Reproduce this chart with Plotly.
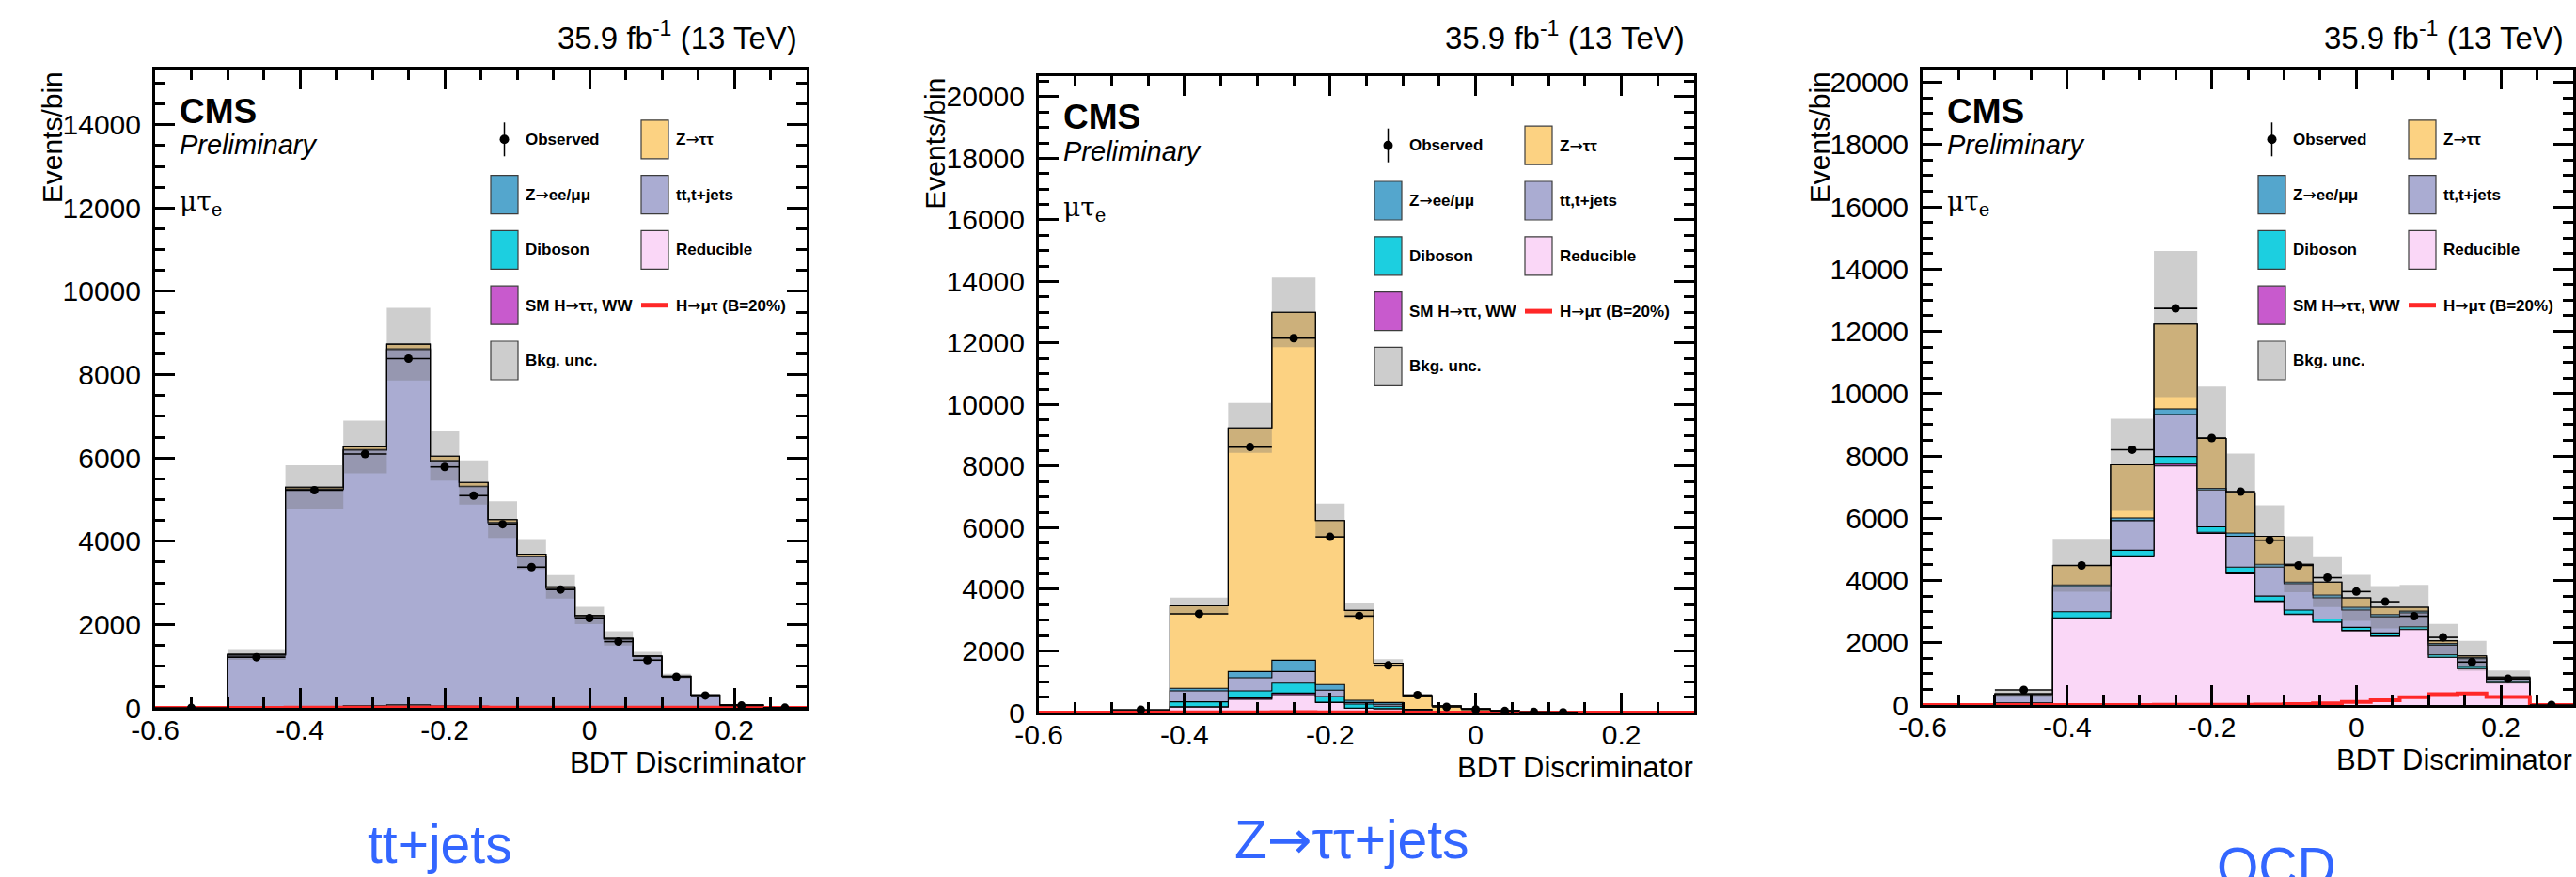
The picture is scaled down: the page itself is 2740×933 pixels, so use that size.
import numpy as np
import plotly.graph_objects as go

W, H = 2740, 933

# ---------------- data ----------------
edges = [-0.6, -0.5, -0.42, -0.34, -0.28, -0.22, -0.18, -0.14, -0.10, -0.06,
         -0.02, 0.02, 0.06, 0.10, 0.14, 0.18, 0.24, 0.30]
x_ticks = [-0.6, -0.4, -0.2, 0.0, 0.2]
x_ticktext = ["-0.6", "-0.4", "-0.2", "0", "0.2"]

# Panel 1 : tt+jets enriched
red1 = [0, 0, 10, 15, 30, 15, 10, 8, 6, 5, 4, 3, 2, 1, 0, 0, 0]
smh1 = [0, 0, 5, 8, 12, 8, 6, 4, 3, 2, 1, 1, 0, 0, 0, 0, 0]
dib1 = [0, 5, 20, 25, 30, 22, 20, 17, 14, 11, 9, 7, 5, 3, 1, 0, 0]
tt1 = [0, 1260, 5211, 6138, 8529, 5883, 5274, 4416, 3609, 2848, 2176, 1636, 1224, 749, 304, 69, 15]
zll1 = [0, 3, 12, 14, 18, 12, 10, 8, 6, 5, 4, 3, 2, 1, 0, 0, 0]
ztt1 = [0, 15, 40, 64, 113, 105, 91, 68, 52, 35, 25, 18, 12, 6, 3, 1, 0]
unc1 = [0, 130, 528, 634, 870, 590, 530, 440, 360, 280, 210, 170, 100, 60, 30, 10, 2]
sig1 = [0, 2, 5, 8, 12, 10, 10, 8, 8, 6, 6, 5, 5, 4, 3, 2, 0]
obs1 = [0, 1215, 5225, 6095, 8385, 5785, 5095, 4410, 3380, 2840, 2155, 1590, 1145, 745, 295, 55, 3]
ymax1 = 15320

# Panel 2 : Z->tautau+jets enriched
red2 = [0, 10, 180, 430, 580, 320, 140, 120, 40, 15, 8, 5, 2, 1, 0, 0, 0]
smh2 = [0, 0, 10, 40, 50, 15, 5, 5, 2, 1, 0, 0, 0, 0, 0, 0, 0]
dib2 = [0, 5, 156, 232, 326, 185, 130, 80, 25, 10, 5, 3, 1, 0, 0, 0, 0]
tt2 = [0, 15, 356, 428, 376, 204, 50, 60, 25, 10, 5, 3, 1, 1, 0, 0, 0]
zll2 = [0, 5, 82, 203, 366, 183, 72, 60, 15, 5, 3, 2, 1, 0, 0, 0, 0]
ztt2 = [0, 25, 2680, 7910, 11300, 5328, 2921, 1279, 440, 178, 107, 57, 25, 13, 5, 2, 0]
unc2 = [0, 10, 270, 810, 1130, 550, 240, 130, 50, 20, 10, 5, 3, 2, 1, 0, 0]
sig2 = [0, 1, 5, 10, 15, 10, 6, 4, 2, 1, 1, 1, 0, 0, 0, 0, 0]
obs2 = [None, 90, 3208, 8623, 12159, 5706, 3136, 1531, 565, 182, 100, 50, 20, 10, None, None, None]
ymax2 = 20680

# Panel 3 : QCD enriched
red3 = [0, 60, 2780, 4754, 7678, 5508, 4216, 3319, 2906, 2655, 2386, 2207, 2422, 1525, 1166, 718, 0]
smh3 = [0, 0, 20, 40, 60, 40, 30, 20, 15, 10, 10, 8, 8, 5, 4, 2, 0]
dib3 = [0, 10, 195, 175, 245, 175, 185, 159, 129, 98, 98, 99, 82, 85, 68, 34, 0]
tt3 = [0, 260, 807, 951, 1346, 1184, 987, 933, 843, 681, 556, 521, 448, 305, 251, 107, 0]
zll3 = [0, 5, 55, 90, 179, 53, 107, 90, 54, 90, 90, 71, 54, 53, 36, 10, 0]
ztt3 = [0, 25, 628, 1704, 2727, 1597, 1292, 897, 574, 413, 304, 234, 126, 90, 54, 26, 0]
unc3 = [0, 100, 850, 1480, 2350, 1670, 1256, 1000, 900, 800, 740, 680, 720, 540, 480, 215, 0]
sig3 = [0, 0, 0, 0, 5, 5, 10, 15, 30, 50, 100, 150, 250, 350, 370, 260, 0]
obs3 = [None, 484, 4485, 8199, 12737, 8575, 6853, 5292, 4485, 4090, 3642, 3319, 2852, 2171, 1381, 843, 0]
ymax3 = 20400

ARROW = '<span style="font-family:DejaVu Sans">→</span>'
titles = ["tt+jets", "Z" + ARROW + "ττ+jets", "QCD"]
LARROW = '<span style="font-family:DejaVu Sans;font-weight:normal">→</span>'
leg_labels = dict(obs="Observed", ztt="Z" + LARROW + "ττ", zll="Z" + LARROW + "ee/μμ", tt="tt,t+jets",
                  dib="Diboson", red="Reducible", smh="SM H" + LARROW + "ττ, WW",
                  sig="H" + LARROW + "μτ (B=20%)", unc="Bkg. unc.")

# ---------------- style ----------------
FONT = "Liberation Sans, Arial, Helvetica, sans-serif"
C_ZTT = "rgb(252,210,130)"
C_ZLL = "rgb(84,166,205)"
C_TT = "rgb(170,172,210)"
C_DIB = "rgb(28,207,224)"
C_RED = "rgb(250,215,247)"
C_SMH = "rgb(200,90,205)"
C_SIG = "rgb(255,40,40)"
C_UNC = "rgba(110,110,110,0.34)"
C_TITLE = "rgb(51,102,255)"

# frame pixel positions: (left, right, top, bottom)
frames = [(165, 858, 74.3, 753), (1105, 1802, 80.7, 758), (2045, 2737, 74.3, 750)]

panels = [
    dict(red=red1, smh=smh1, dib=dib1, tt=tt1, zll=zll1, ztt=ztt1, unc=unc1, sig=sig1, obs=obs1, ymax=ymax1),
    dict(red=red2, smh=smh2, dib=dib2, tt=tt2, zll=zll2, ztt=ztt2, unc=unc2, sig=sig2, obs=obs2, ymax=ymax2),
    dict(red=red3, smh=smh3, dib=dib3, tt=tt3, zll=zll3, ztt=ztt3, unc=unc3, sig=sig3, obs=obs3, ymax=ymax3),
]

e = np.array(edges)
centers = (e[:-1] + e[1:]) / 2
halfw = (e[1:] - e[:-1]) / 2


def px(x):
    return x / W


def py(y):
    return 1 - y / H


def stepy(v):
    v = list(v)
    return v + [v[-1]]


fig = go.Figure()
layout = dict(width=W, height=H, margin=dict(l=0, r=0, t=0, b=0), autosize=False,
              paper_bgcolor="white", plot_bgcolor="white", showlegend=False,
              font=dict(family=FONT, color="black"))
annotations = []
shapes = []

order = [("red", C_RED), ("smh", C_SMH), ("dib", C_DIB), ("tt", C_TT), ("zll", C_ZLL), ("ztt", C_ZTT)]

for i, (p, fr) in enumerate(zip(panels, frames)):
    n = "" if i == 0 else str(i + 1)
    xa, ya = "x" + n, "y" + n
    L, R, T, B = fr
    cum = np.zeros(len(centers))
    for k, (key, col) in enumerate(order):
        cum = cum + np.array(p[key], dtype=float)
        fig.add_trace(go.Scatter(x=edges, y=stepy(cum), mode="lines", line=dict(shape="hv", color="black", width=1.1),
                                 fill="tozeroy" if k == 0 else "tonexty", fillcolor=col,
                                 xaxis=xa, yaxis=ya, hoverinfo="skip"))
    total = cum
    unc = np.array(p["unc"], dtype=float)
    lo = np.clip(total - unc, 0, None)
    hi = total + unc
    fig.add_trace(go.Scatter(x=edges, y=stepy(lo), mode="lines", line=dict(shape="hv", width=0, color="rgba(0,0,0,0)"),
                             xaxis=xa, yaxis=ya, hoverinfo="skip"))
    fig.add_trace(go.Scatter(x=edges, y=stepy(hi), mode="lines", line=dict(shape="hv", width=0, color="rgba(0,0,0,0)"),
                             fill="tonexty", fillcolor=C_UNC, xaxis=xa, yaxis=ya, hoverinfo="skip"))
    # total outline on top
    fig.add_trace(go.Scatter(x=edges, y=stepy(total), mode="lines", line=dict(shape="hv", color="black", width=1.1),
                             xaxis=xa, yaxis=ya, hoverinfo="skip"))
    # signal
    fig.add_trace(go.Scatter(x=edges, y=stepy(p["sig"]), mode="lines", line=dict(shape="hv", color=C_SIG, width=4),
                             xaxis=xa, yaxis=ya, hoverinfo="skip"))
    # observed
    obs = p["obs"]
    ey = [np.sqrt(v) if v is not None else 0 for v in obs]
    fig.add_trace(go.Scatter(x=centers, y=obs, mode="markers", marker=dict(color="black", size=9),
                             error_x=dict(type="data", array=halfw, color="black", thickness=1.6, width=0),
                             error_y=dict(type="data", array=ey, color="black", thickness=1.6, width=0),
                             xaxis=xa, yaxis=ya, hoverinfo="skip"))

    common = dict(ticks="inside", tickcolor="black", tickwidth=3, ticklen=21, mirror="allticks",
                  showline=True, linecolor="black", linewidth=3, showgrid=False, zeroline=False,
                  tickfont=dict(family=FONT, size=30, color="black"), automargin=False, fixedrange=True)
    layout["xaxis" + n] = dict(domain=[px(L), px(R)], range=[edges[0], edges[-1]], anchor=ya,
                               tickmode="array", tickvals=x_ticks, ticktext=x_ticktext,
                               minor=dict(tick0=-0.6, dtick=0.05, ticks="inside", ticklen=11, tickwidth=2.5, tickcolor="black"),
                               ticklabelstandoff=-5, **common)
    layout["yaxis" + n] = dict(domain=[py(B), py(T)], range=[0, p["ymax"]], anchor=xa,
                               tick0=0, dtick=2000, tickformat="d",
                               minor=dict(tick0=0, dtick=500, ticks="inside", ticklen=11, tickwidth=2.5, tickcolor="black"),
                               ticklabelstandoff=6, **common)

    # texts
    annotations += [
        dict(x=px(R - 8), y=py(38), xref="paper", yref="paper", xanchor="right", yanchor="middle", showarrow=False,
             text="35.9 fb<sup>-1</sup> (13 TeV)", font=dict(size=33)),
        dict(x=px(L - 110), y=py(T), xref="paper", yref="paper", xanchor="center", yanchor="top", showarrow=False,
             text="Events/bin", textangle=-90, font=dict(size=30)),
        dict(x=px(R + 1), y=py(B + 58), xref="paper", yref="paper", xanchor="right", yanchor="middle", showarrow=False,
             text="BDT Discriminator", font=dict(size=31)),
        dict(x=px(L + 24), y=py(T + 44), xref="paper", yref="paper", xanchor="left", yanchor="middle", showarrow=False,
             text="<b>CMS</b>", font=dict(size=37)),
        dict(x=px(L + 24), y=py(T + 80), xref="paper", yref="paper", xanchor="left", yanchor="middle", showarrow=False,
             text="<i>Preliminary</i>", font=dict(size=29)),
        dict(x=px(L + 24), y=py(T + 142), xref="paper", yref="paper", xanchor="left", yanchor="middle", showarrow=False,
             text="μτ<sub>e</sub>", font=dict(size=28, family="DejaVu Serif, serif")),
    ]

    # legend (drawn manually in two columns)
    bw, bh = 29, 41
    c1, c2 = L + 357, L + 517
    rows = [T + 74 + 58.8 * k for k in range(5)]
    boxes = [(c1, rows[1], C_ZLL, leg_labels["zll"]), (c1, rows[2], C_DIB, leg_labels["dib"]),
             (c1, rows[3], C_SMH, leg_labels["smh"]), (c1, rows[4], "rgb(205,205,205)", leg_labels["unc"]),
             (c2, rows[0], C_ZTT, leg_labels["ztt"]), (c2, rows[1], C_TT, leg_labels["tt"]),
             (c2, rows[2], C_RED, leg_labels["red"])]
    for bx, by, col, lab in boxes:
        shapes.append(dict(type="rect", xref="paper", yref="paper", x0=px(bx), x1=px(bx + bw),
                           y0=py(by + bh / 2), y1=py(by - bh / 2), fillcolor=col,
                           line=dict(color="rgb(60,60,60)", width=1.2)))
        annotations.append(dict(x=px(bx + 35), y=py(by), xref="paper", yref="paper", xanchor="left",
                                yanchor="middle", showarrow=False, text="<b>" + lab + "</b>", font=dict(size=17)))
    # observed glyph
    mx = c1 + bw / 2
    shapes.append(dict(type="line", xref="paper", yref="paper", x0=px(mx), x1=px(mx),
                       y0=py(rows[0] + 18), y1=py(rows[0] - 18), line=dict(color="black", width=1.5)))
    shapes.append(dict(type="circle", xref="paper", yref="paper", x0=px(mx - 5), x1=px(mx + 5),
                       y0=py(rows[0] + 5), y1=py(rows[0] - 5), fillcolor="black", line=dict(color="black", width=0)))
    annotations.append(dict(x=px(c1 + 35), y=py(rows[0]), xref="paper", yref="paper", xanchor="left",
                            yanchor="middle", showarrow=False, text="<b>" + leg_labels["obs"] + "</b>", font=dict(size=17)))
    # signal glyph
    shapes.append(dict(type="line", xref="paper", yref="paper", x0=px(c2), x1=px(c2 + bw),
                       y0=py(rows[3]), y1=py(rows[3]), line=dict(color=C_SIG, width=5)))
    annotations.append(dict(x=px(c2 + 35), y=py(rows[3]), xref="paper", yref="paper", xanchor="left",
                            yanchor="middle", showarrow=False, text="<b>" + leg_labels["sig"] + "</b>", font=dict(size=17)))

# page titles below the panels
title_pos = [(468, 898), (1438, 893), (2421, 922)]
for t, (tx, ty) in zip(titles, title_pos):
    annotations.append(dict(x=px(tx), y=py(ty), xref="paper", yref="paper", xanchor="center", yanchor="middle",
                            showarrow=False, text=t, font=dict(size=57, color=C_TITLE)))

layout["annotations"] = annotations
layout["shapes"] = shapes
fig.update_layout(**layout)
fig.write_html("out.html")
